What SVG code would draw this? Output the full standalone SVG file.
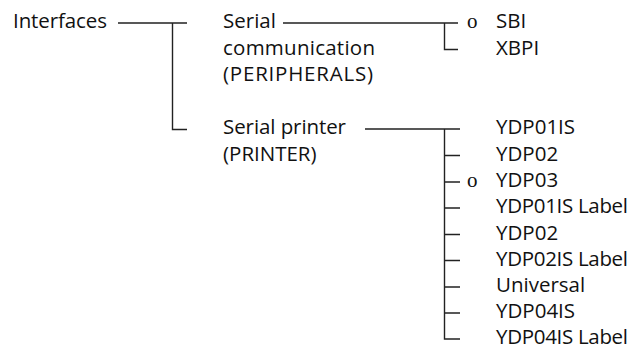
<svg xmlns="http://www.w3.org/2000/svg" width="641" height="351" viewBox="0 0 641 351">
<style>
text{font-family:"Open Sans","Liberation Sans",sans-serif;font-size:20.5px;fill:#111}
.o{font-family:"Liberation Serif",serif;font-size:21px}
.c{stroke:#222;stroke-width:1.4;fill:none}
</style>
<rect width="641" height="351" fill="#fff"/>
<g id="connectors" class="c">
<path d="M118 23H187M172.5 23V129.5H187"/>
<path d="M283 23H458M444.5 23V49.5H458"/>
<path d="M365 129H460M444.5 129V339H460M444.5 155.5H460M444.5 182H460M444.5 208H460M444.5 234.5H460M444.5 260.5H460M444.5 287H460M444.5 313H460"/>
</g>
<g id="interfaces"><text x="13" y="28" textLength="94">Interfaces</text></g>
<g id="serial-communication"><text x="223" y="28">Serial</text><text x="223" y="54.5" textLength="152">communication</text><text x="223" y="81" textLength="150">(PERIPHERALS)</text></g>
<g id="serial-printer"><text x="223" y="134" textLength="123">Serial printer</text><text x="223" y="160.5">(PRINTER)</text></g>
<g id="sbi"><text class="o" x="467" y="28">o</text><text x="496" y="28">SBI</text></g>
<g id="xbpi"><text x="496" y="54.5">XBPI</text></g>
<g id="ydp01is"><text x="496" y="134">YDP01IS</text></g>
<g id="ydp02"><text x="496" y="160.5">YDP02</text></g>
<g id="ydp03"><text class="o" x="467" y="187">o</text><text x="496" y="187">YDP03</text></g>
<g id="ydp01is-label"><text x="496" y="213" textLength="132">YDP01IS Label</text></g>
<g id="ydp02-b"><text x="496" y="239.5">YDP02</text></g>
<g id="ydp02is-label"><text x="496" y="265.5" textLength="132">YDP02IS Label</text></g>
<g id="universal"><text x="496" y="292">Universal</text></g>
<g id="ydp04is"><text x="496" y="318">YDP04IS</text></g>
<g id="ydp04is-label"><text x="496" y="344" textLength="132">YDP04IS Label</text></g>
</svg>
